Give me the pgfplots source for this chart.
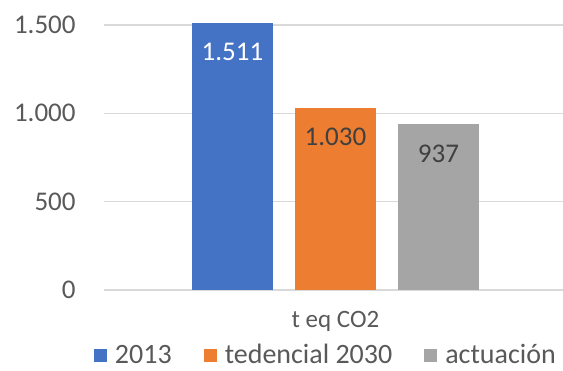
\documentclass[border=0pt]{standalone}
\usepackage{fontspec}
\setmainfont{Carlito}
\usepackage{pgfplots}
\pgfplotsset{compat=1.18}
\definecolor{cblue}{HTML}{4472C4}
\definecolor{corange}{HTML}{ED7D31}
\definecolor{cgray}{HTML}{A5A5A5}
\definecolor{ctext}{HTML}{595959}
\definecolor{clabel}{HTML}{404040}
\definecolor{cgrid}{HTML}{D9D9D9}
\begin{document}
\begin{tikzpicture}
\useasboundingbox (0,0) rectangle (281.5pt,185pt);
\begin{axis}[
  at={(52pt,40pt)}, anchor=south west, scale only axis,
  width=229.5pt, height=133.5pt,
  xmin=-231.5, xmax=227.5, ymin=0, ymax=1511,
  ybar=11pt, bar width=40.5pt,
  axis line style={draw=none},
  major tick length=0pt,
  ymajorgrids, grid style={color=cgrid, line width=0.6pt},
  ytick={0,500,1000,1500}, yticklabels={0,500,1.000,1.500},
  yticklabel style={font=\fontsize{13.5}{16}\selectfont, text=ctext, anchor=east, inner sep=0pt, xshift=-14pt},
  xtick={0}, xticklabels={t eq CO2},
  xticklabel style={font=\fontsize{12.5}{14}\selectfont, text=ctext, anchor=base, inner sep=0pt, yshift=-19pt},
  point meta=explicit symbolic,
  nodes near coords={\pgfplotspointmeta},
  every node near coord/.append style={anchor=center, yshift=-14.5pt, font=\fontsize{13.5}{16}\selectfont, text=clabel},
  legend columns=-1,
  legend image code/.code={\fill[#1] (0pt,-3pt) rectangle (6.5pt,3.5pt);},
  legend style={draw=none, fill=none, at={(0.49,-0.246)}, anchor=center,
    font=\fontsize{14}{16}\selectfont, text=ctext, inner sep=0pt,
    /tikz/every even column/.append style={column sep=12pt},
    nodes={inner xsep=4pt, inner ysep=0pt}},
]
\addplot[fill=cblue, draw=none, every node near coord/.append style={text=white}] coordinates {(0,1511) [1.511]};
\addlegendentry{2013}
\addplot[fill=corange, draw=none] coordinates {(0,1030) [1.030]};
\addlegendentry{tedencial 2030}
\addplot[fill=cgray, draw=none] coordinates {(0,937) [937]};
\addlegendentry{actuación}
\end{axis}
\end{tikzpicture}
\end{document}
